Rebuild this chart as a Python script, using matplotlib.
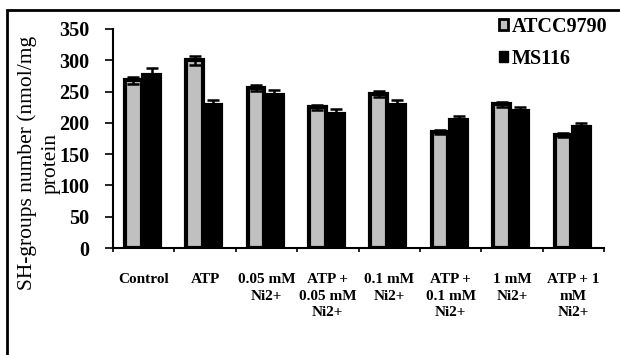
import numpy as np
import matplotlib
matplotlib.use("Agg")
from matplotlib import pyplot as plt
from matplotlib.patches import Patch, Rectangle

CATEGORIES = ["Control", "ATP", "0.05 mM\nNi2+", "ATP +\n0.05 mM\nNi2+",
              "0.1 mM\nNi2+", "ATP +\n0.1 mM\nNi2+", "1 mM\nNi2+", "ATP + 1\nmM\nNi2+"]
ATCC = [268, 300, 256, 225, 246, 185, 230, 180]
ATCC_ERR = [6, 7, 5, 4, 5, 3, 4, 3]
MS116 = [277, 229, 244, 214, 229, 204, 219, 193]
MS116_ERR = [10, 7, 8, 8, 7, 7, 6, 7]

plt.rcParams['font.family'] = ['Liberation Serif', 'DejaVu Serif']

fig = plt.figure(figsize=(6.2, 3.55), dpi=100)
ax = fig.add_axes([113/620, 1-248/355, (604-113)/620, (248-29)/355])

x = np.arange(len(CATEGORIES))
w = 0.27
ax.bar(x + 0.33, ATCC, w, color='#C0C0C0', edgecolor='black', linewidth=3.0, zorder=2)
ax.bar(x + 0.63, MS116, w, color='black', edgecolor='black', linewidth=3.0, zorder=2)
ax.errorbar(x + 0.33, ATCC, yerr=ATCC_ERR, fmt='none', ecolor='black',
            elinewidth=1.8, capsize=4.5, capthick=1.8, zorder=3)
ax.errorbar(x + 0.63, MS116, yerr=MS116_ERR, fmt='none', ecolor='black',
            elinewidth=1.8, capsize=4.5, capthick=1.8, zorder=3)

ax.set_xlim(0, len(CATEGORIES))
ax.set_ylim(0, 350)
ax.set_yticks(range(0, 351, 50))
for lab in ax.get_yticklabels():
    lab.set_fontweight('bold')
ax.tick_params(axis='y', labelsize=14.5, length=5.8, width=1.2, pad=11)
ax.set_xticks(range(len(CATEGORIES) + 1))
ax.set_xticklabels([])
ax.tick_params(axis='x', which='major', length=3, width=1.2)
ax.set_xticks(x + 0.5, minor=True)
ax.set_xticklabels(CATEGORIES, minor=True, fontsize=11, fontweight='bold',
                   linespacing=1.35)
ax.tick_params(axis='x', which='minor', length=0, pad=18)

for s in ['top', 'right']:
    ax.spines[s].set_visible(False)
for s in ['left', 'bottom']:
    ax.spines[s].set_linewidth(1.5)

fig.text(39/620, 1-163/355, "SH-groups number (nmol/mg\nprotein", rotation=90,
         ha='center', va='center', multialignment='center', fontsize=15.5,
         linespacing=1.3)

handles = [Patch(facecolor='#C0C0C0', edgecolor='black', linewidth=2, label='ATCC9790'),
           Patch(facecolor='black', edgecolor='black', label='MS116')]
fig.legend(handles=handles, loc='upper left', bbox_to_anchor=(499/620, 1-17/355),
           frameon=False, prop={'weight': 'bold', 'size': 14.5},
           handlelength=0.45, handleheight=0.45, handletextpad=0.2,
           labelspacing=0.6, borderpad=0, borderaxespad=0)

fig.patches.append(Rectangle((7/620, -0.1), 1.2, 1.1 - 10/355, transform=fig.transFigure,
                             fill=False, edgecolor='black', linewidth=2))

plt.savefig("out.png", dpi=100)
